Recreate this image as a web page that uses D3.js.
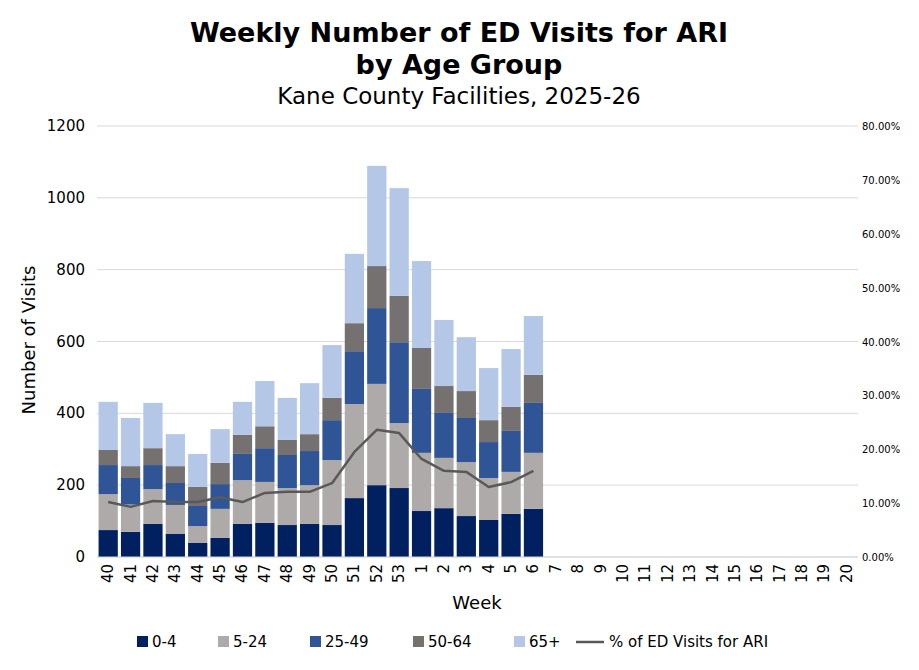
<!DOCTYPE html><html><head><meta charset="utf-8"><script src="https://cdn.jsdelivr.net/npm/d3@7"></script>
<style>body{margin:0;background:#fff}svg{font-family:"DejaVu Sans",Verdana,sans-serif}</style></head><body><svg id="c" width="919" height="670"></svg><script>
const weeks=["40","41","42","43","44","45","46","47","48","49","50","51","52","53","1","2","3","4","5","6","7","8","9","10","11","12","13","14","15","16","17","18","19","20"];
const age0_4=[75,70,92,64,39,53,92,95,89,92,89,164,200,192,128,136,114,103,120,134];
const age5_24=[100,76,97,81,47,81,122,114,103,108,181,262,282,181,162,140,150,117,117,156];
const age25_49=[81,74,67,61,56,69,73,94,92,95,111,147,211,225,178,125,123,100,114,139];
const age50_64=[42,33,47,47,53,59,53,61,42,47,62,78,117,129,114,75,75,61,67,78];
const age65p=[134,134,126,89,92,94,92,126,117,142,147,193,279,300,242,184,150,145,161,164];
const pctARI=[10.2,9.3,10.4,10.2,10.2,11.1,10.2,11.9,12.1,12.1,13.7,19.5,23.6,23.0,18.2,16.0,15.8,13.0,13.9,16.0];
const seriesNames=["0-4","5-24","25-49","50-64","65+"];
const colors=["#002060","#AEAAAA","#2F5597","#767171","#B4C7E7"];
const yTicks=[0,200,400,600,800,1000,1200];
const y2Ticks=[0,10,20,30,40,50,60,70,80];

const svg=d3.select("#c");
const L=97,R=858,T=126,B=557;
const x=d3.scaleBand().domain(weeks).range([L,R]).paddingInner(0.14).paddingOuter(0.07);
const y=d3.scaleLinear().domain([0,1200]).range([B,T]);
const y2=d3.scaleLinear().domain([0,80]).range([B,T]);
svg.append("g").selectAll("line").data(yTicks).join("line").attr("x1",L).attr("x2",R).attr("y1",d=>y(d)).attr("y2",d=>y(d)).attr("stroke","#d9d9d9");
const arrs=[age0_4,age5_24,age25_49,age50_64,age65p];
const rows=age0_4.map((_,i)=>{const o={w:weeks[i]};seriesNames.forEach((s,k)=>o[s]=arrs[k][i]);return o;});
const st=d3.stack().keys(seriesNames)(rows);
st.forEach((s,k)=>svg.append("g").attr("fill",colors[k]).selectAll("rect").data(s).join("rect")
 .attr("x",d=>x(d.data.w)).attr("width",x.bandwidth()).attr("y",d=>y(d[1])).attr("height",d=>y(d[0])-y(d[1])));
const line=d3.line().x((d,i)=>x(weeks[i])+x.bandwidth()/2).y(d=>y2(d));
svg.append("path").datum(pctARI).attr("d",line).attr("fill","none").attr("stroke","#595959").attr("stroke-width",2.5).attr("stroke-linejoin","round");
svg.append("line").attr("x1",L).attr("x2",R).attr("y1",B).attr("y2",B).attr("stroke","#d9d9d9");
svg.append("g").selectAll("text").data(yTicks).join("text").attr("x",85).attr("y",d=>y(d)+5).attr("text-anchor","end").attr("font-size",15).text(d=>d);
svg.append("g").selectAll("text").data(y2Ticks).join("text").attr("x",862).attr("y",d=>y2(d)+4).attr("font-size",10).text(d=>d.toFixed(2)+"%");
svg.append("g").selectAll("text").data(weeks).join("text").attr("transform",d=>`translate(${x(d)+x.bandwidth()/2+5},564) rotate(-90)`).attr("text-anchor","end").attr("font-size",15).text(d=>d);
svg.append("text").attr("x",477).attr("y",609).attr("text-anchor","middle").attr("font-size",18).text("Week");
svg.append("text").attr("transform","translate(35,340) rotate(-90)").attr("text-anchor","middle").attr("font-size",18).text("Number of Visits");
svg.append("text").attr("x",459).attr("y",42).attr("text-anchor","middle").attr("font-size",27).attr("font-weight","bold").text("Weekly Number of ED Visits for ARI");
svg.append("text").attr("x",459).attr("y",74).attr("text-anchor","middle").attr("font-size",27).attr("font-weight","bold").text("by Age Group");
svg.append("text").attr("x",459).attr("y",104).attr("text-anchor","middle").attr("font-size",23).text("Kane County Facilities, 2025-26");
const lg=[[137,"0-4"],[218,"5-24"],[310,"25-49"],[413,"50-64"],[514,"65+"]];
lg.forEach(([lx,t],k)=>{svg.append("rect").attr("x",lx).attr("y",636).attr("width",11).attr("height",11).attr("fill",colors[k]);
 svg.append("text").attr("x",lx+15).attr("y",647).attr("font-size",15).text(t);});
svg.append("line").attr("x1",576).attr("x2",604).attr("y1",642).attr("y2",642).attr("stroke","#595959").attr("stroke-width",2.5);
svg.append("text").attr("x",609).attr("y",647).attr("font-size",15).text("% of ED Visits for ARI");
</script></body></html>
